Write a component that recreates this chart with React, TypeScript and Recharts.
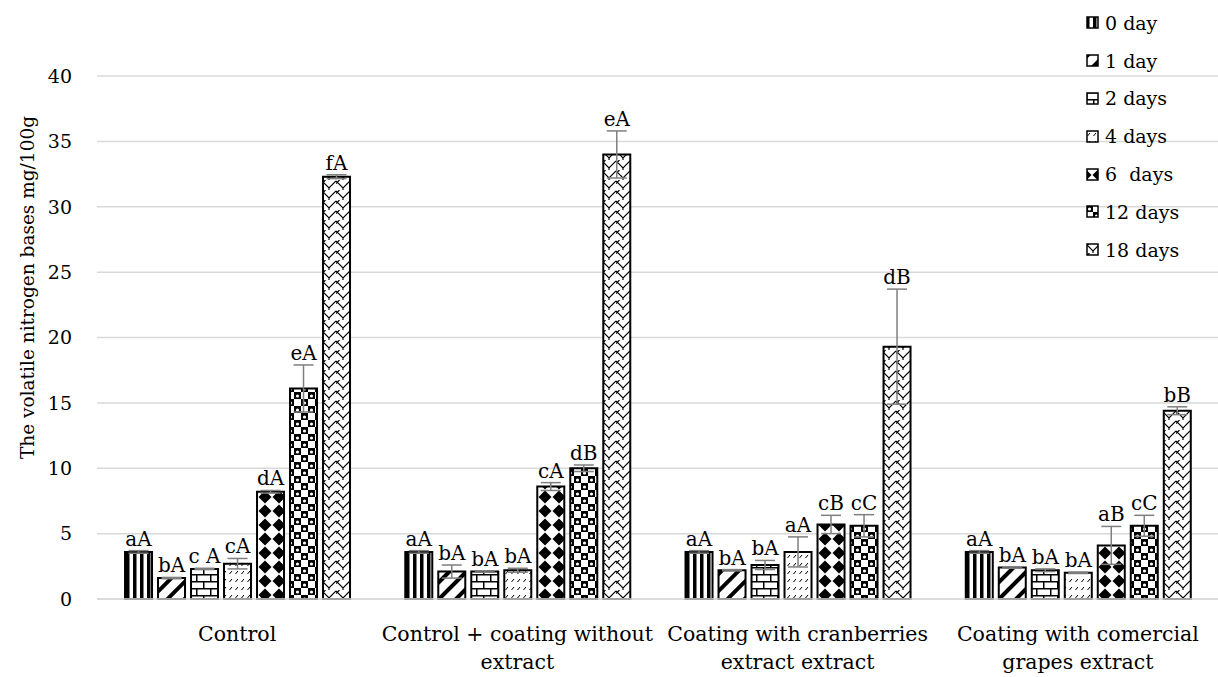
import React from "react";
import { BarChart, Bar, XAxis, YAxis, CartesianGrid, ErrorBar, LabelList } from "recharts";

const FONT = "'DejaVu Serif', serif";

const categories = [
  "Control",
  "Control + coating without extract",
  "Coating with cranberries extract extract",
  "Coating with comercial grapes extract",
];
const tickLines = [
  ["Control"],
  ["Control + coating without", "extract"],
  ["Coating with cranberries", "extract extract"],
  ["Coating with comercial", "grapes extract"],
];
const days = ["0 day", "1 day", "2 days", "4 days", "6  days", "12 days", "18 days"];
const yTicks = [0, 5, 10, 15, 20, 25, 30, 35, 40];

// mean TVB-N per storage day, one list per treatment
const controlVals = [3.6, 1.6, 2.3, 2.7, 8.2, 16.1, 32.3];
const coatingVals = [3.6, 2.1, 2.1, 2.2, 8.6, 10.0, 34.0];
const cranberryVals = [3.6, 2.2, 2.6, 3.6, 5.7, 5.6, 19.3];
const grapeVals = [3.6, 2.4, 2.2, 2.0, 4.1, 5.6, 14.4];

// standard deviations
const controlErr = [0.1, 0.05, 0.05, 0.4, 0.1, 1.8, 0.15];
const coatingErr = [0.1, 0.5, 0.05, 0.15, 0.3, 0.25, 1.8];
const cranberryErr = [0.1, 0.05, 0.35, 1.15, 0.7, 0.85, 4.4];
const grapeErr = [0.1, 0.05, 0.1, 0.05, 1.45, 0.8, 0.3];

// significance letters
const controlLetters = ["aA", "bA", "c A", "cA", "dA", "eA", "fA"];
const coatingLetters = ["aA", "bA", "bA", "bA", "cA", "dB", "eA"];
const cranberryLetters = ["aA", "bA", "bA", "aA", "cB", "cC", "dB"];
const grapeLetters = ["aA", "bA", "bA", "bA", "aB", "cC", "bB"];

const vals = [controlVals, coatingVals, cranberryVals, grapeVals];
const errs = [controlErr, coatingErr, cranberryErr, grapeErr];
const letters = [controlLetters, coatingLetters, cranberryLetters, grapeLetters];

const data = categories.map((name, i) => {
  const row: Record<string, string | number> = { name };
  days.forEach((_, s) => {
    row[`v${s}`] = vals[i][s];
    row[`e${s}`] = errs[i][s];
    row[`l${s}`] = letters[i][s];
  });
  return row;
});

// fill patterns, one per storage day
function Patterns() {
  return (
    <svg width={0} height={0} style={{ position: "absolute" }}>
      <defs>
        <pattern id="pat0" width="7" height="7" patternUnits="userSpaceOnUse">
          <rect width="7" height="7" fill="#fff" />
          <rect width="3.5" height="7" fill="#000" />
        </pattern>
        <pattern id="pat1" width="12" height="12" patternUnits="userSpaceOnUse" patternTransform="rotate(45)">
          <rect width="12" height="12" fill="#fff" />
          <rect width="4" height="12" fill="#000" />
        </pattern>
        <pattern id="pat2" width="14" height="14" patternUnits="userSpaceOnUse">
          <rect width="14" height="14" fill="#fff" />
          <path d="M0,0.75 H14 M0,7.75 H14 M0.75,0 V7 M7.75,7 V14" stroke="#000" strokeWidth="1.5" />
        </pattern>
        <pattern id="pat3" width="6" height="8" patternUnits="userSpaceOnUse">
          <rect width="6" height="8" fill="#fff" />
          <path d="M1.5,6 L4,3" stroke="#000" strokeWidth="1" />
        </pattern>
        <pattern id="pat4" x="6" y="0" width="14" height="14" patternUnits="userSpaceOnUse">
          <rect width="14" height="14" fill="#fff" />
          <path d="M7,0.5 L13.5,7 L7,13.5 L0.5,7 Z" fill="#000" />
        </pattern>
        <pattern id="pat5" width="14" height="14" patternUnits="userSpaceOnUse">
          <rect width="14" height="14" fill="#fff" />
          <rect width="7" height="7" fill="#000" />
          <rect x="7" y="7" width="7" height="7" fill="#000" />
          <circle cx="3.5" cy="4" r="1.6" fill="#fff" />
          <circle cx="10.5" cy="11" r="1.6" fill="#fff" />
        </pattern>
        <pattern id="pat6" width="14" height="10" patternUnits="userSpaceOnUse">
          <rect width="14" height="10" fill="#fff" />
          <path d="M0,1 L7,8 L14,1 M7,8 L7,10 M3.5,0 L0,3.5" fill="none" stroke="#000" strokeWidth="1.2" />
        </pattern>
      </defs>
    </svg>
  );
}

const renderLetter = (s: number) => (props: any) => {
  const vb = props.viewBox && props.viewBox.width != null ? props.viewBox : props;
  const { x, y, width, height } = vb;
  const i = props.index;
  if (i == null || x == null) return null;
  const v = vals[i][s];
  const perUnit = v ? height / v : 0;
  const top = y - errs[i][s] * perUnit;
  return (
    <text
      x={x + width / 2}
      y={top - 5}
      textAnchor="middle"
      fontFamily={FONT}
      fontSize={20}
      fill="#000"
      style={{ whiteSpace: "pre" }}
    >
      {letters[i][s]}
    </text>
  );
};

function CategoryTick(props: any) {
  const { x, y, payload } = props;
  const lines = tickLines[categories.indexOf(payload.value)] ?? [payload.value];
  return (
    <text x={x} y={y} textAnchor="middle" fontFamily={FONT} fontSize={20.5} fill="#000">
      {lines.map((l, i) => (
        <tspan key={i} x={x} dy={i === 0 ? 42 : 28}>
          {l}
        </tspan>
      ))}
    </text>
  );
}

function ValueTick(props: any) {
  const { y, payload } = props;
  return (
    <text x={72} y={y} dy="0.36em" textAnchor="end" fontFamily={FONT} fontSize={19} fill="#000">
      {payload.value}
    </text>
  );
}

function YTitle(props: any) {
  const vb = props.viewBox || { x: 0, y: 76, width: 97, height: 523 };
  const cx = 27;
  const cy = vb.y + vb.height / 2 - 50;
  return (
    <text
      x={cx}
      y={cy}
      transform={`rotate(-90 ${cx} ${cy})`}
      textAnchor="middle"
      dominantBaseline="central"
      fontFamily={FONT}
      fontSize={18.5}
      fill="#000"
    >
      The volatile nitrogen bases mg/100g
    </text>
  );
}

function DayLegend() {
  return (
    <div style={{ position: "absolute", left: 1086, top: 4, fontFamily: FONT, fontSize: 19 }}>
      {days.map((d, s) => (
        <div key={d} style={{ display: "flex", alignItems: "center", height: 37.8 }}>
          <svg width={13} height={13} style={{ marginRight: 6 }}>
            <rect x={1} y={1} width={11} height={11} fill={`url(#pat${s})`} stroke="#000" strokeWidth={1.5} />
          </svg>
          <span style={{ whiteSpace: "pre" }}>{d}</span>
        </div>
      ))}
    </div>
  );
}

export default function App() {
  return (
    <div style={{ position: "absolute", left: 0, top: 0, width: 1218, height: 677, background: "#fff" }}>
      <Patterns />
      <BarChart
        width={1218}
        height={677}
        data={data}
        margin={{ top: 76, right: 0, bottom: 0, left: 0 }}
        barCategoryGap="10%"
        barGap={6}
      >
        <CartesianGrid horizontal vertical={false} stroke="#d9d9d9" strokeWidth={1.5} />
        <XAxis
          dataKey="name"
          interval={0}
          tickLine={false}
          tickSize={0}
          tickMargin={0}
          height={78}
          axisLine={{ stroke: "#d9d9d9", strokeWidth: 1.5 }}
          tick={<CategoryTick />}
        />
        <YAxis
          width={97}
          domain={[0, 40]}
          ticks={yTicks}
          tickLine={false}
          axisLine={false}
          tick={<ValueTick />}
          label={{ content: <YTitle /> }}
        />
        {days.map((d, s) => (
          <Bar
            key={d}
            dataKey={`v${s}`}
            name={d}
            fill={`url(#pat${s})`}
            stroke="#000"
            strokeWidth={2}
            isAnimationActive={false}
          >
            <ErrorBar dataKey={`e${s}`} width={10} stroke="#7f7f7f" strokeWidth={1.5} direction="y" isAnimationActive={false} />
            <LabelList dataKey={`l${s}`} content={renderLetter(s)} />
          </Bar>
        ))}
      </BarChart>
      <DayLegend />
    </div>
  );
}
